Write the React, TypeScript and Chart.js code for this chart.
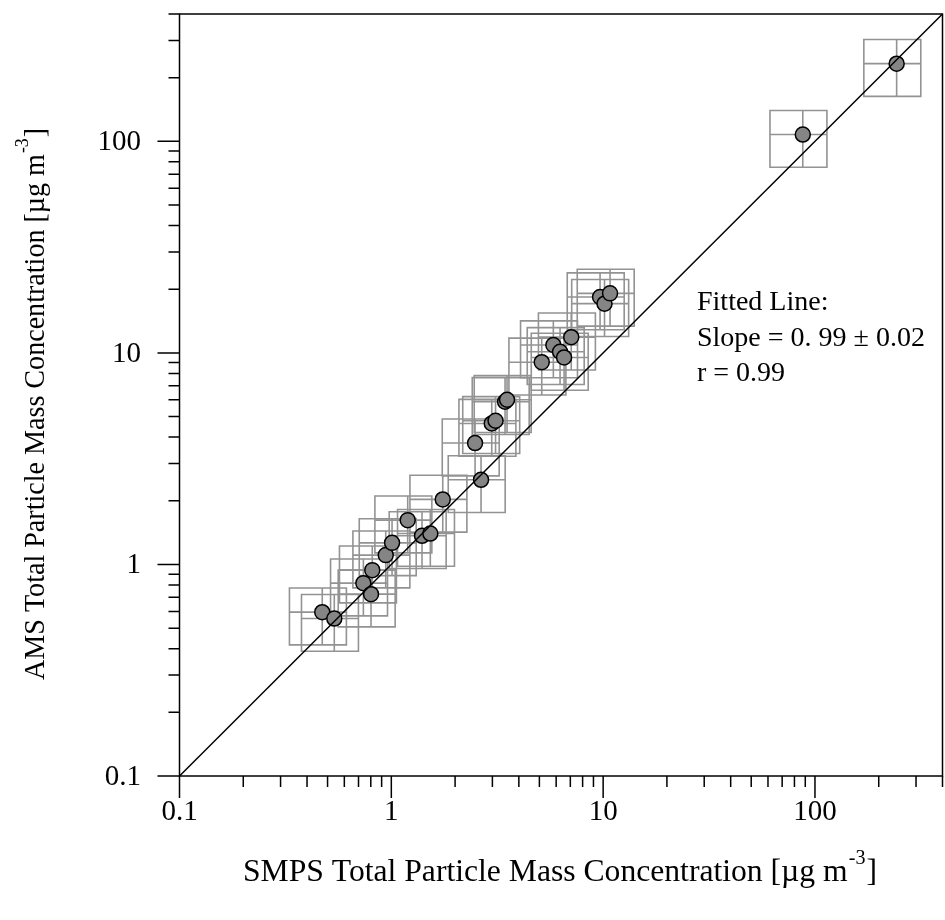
import React, { useEffect, useRef } from "react";
import { Chart, registerables } from "chart.js";
Chart.register(...registerables);

// SMPS (x) and AMS (y) total particle mass concentrations, µg m-3
const smpsX = [0.472, 0.538, 0.738, 0.802, 0.813, 0.941, 1.008, 1.195, 1.396, 1.528, 1.749, 2.652, 2.485, 2.979, 3.105, 3.443, 3.518, 5.13, 5.82, 6.26, 6.54, 7.07, 9.67, 10.15, 10.78, 87.6, 243];
const amsY = [0.595, 0.555, 0.816, 0.724, 0.94, 1.107, 1.265, 1.62, 1.366, 1.4, 2.03, 2.513, 3.748, 4.64, 4.778, 5.878, 6.005, 9.04, 10.9, 10.13, 9.52, 11.87, 18.38, 17.09, 19.12, 107.7, 233];
const relErr = 0.3; // ±30 % uncertainty boxes
const oneToOneX = [0.1, 400];
const oneToOneY = [0.1, 400];
const axisMin = 0.1;
const axisMax = 400;
const majorTicks = [0.1, 1, 10, 100];
const tickLabels = ["0.1", "1", "10", "100"];
const annotationLines = ["Fitted Line:", "Slope = 0. 99 \u00b1 0.02", "r = 0.99"];
const xTitle = "SMPS Total Particle Mass Concentration [\u00b5g m";
const yTitle = "AMS Total Particle Mass Concentration [\u00b5g m";
const titleSup = "-3";
const titleEnd = "]";

const SERIF = '"Liberation Serif", "Times New Roman", serif';

const boxesPlugin = {
  id: "errBoxes",
  beforeDatasetsDraw(chart: any) {
    const ctx = chart.ctx;
    const xs = chart.scales.x;
    const ys = chart.scales.y;
    ctx.save();
    ctx.strokeStyle = "#939393";
    ctx.lineWidth = 1.6;
    for (let i = 0; i < smpsX.length; i++) {
      const x = smpsX[i];
      const y = amsY[i];
      const x0 = xs.getPixelForValue(x * (1 - relErr));
      const x1 = xs.getPixelForValue(x * (1 + relErr));
      const y0 = ys.getPixelForValue(y * (1 - relErr));
      const y1 = ys.getPixelForValue(y * (1 + relErr));
      const xc = xs.getPixelForValue(x);
      const yc = ys.getPixelForValue(y);
      ctx.beginPath();
      ctx.rect(x0, y1, x1 - x0, y0 - y1);
      ctx.moveTo(xc, y1);
      ctx.lineTo(xc, y0);
      ctx.moveTo(x0, yc);
      ctx.lineTo(x1, yc);
      ctx.stroke();
    }
    ctx.restore();
  },
};

function drawTitle(ctx: CanvasRenderingContext2D, base: string, size: number) {
  ctx.font = `${size}px ${SERIF}`;
  ctx.textAlign = "left";
  ctx.textBaseline = "alphabetic";
  ctx.fillText(base, 0, 0);
  const w1 = ctx.measureText(base).width;
  const supSize = Math.round(size * 0.62);
  ctx.font = `${supSize}px ${SERIF}`;
  ctx.fillText(titleSup, w1 + 1, -size * 0.55);
  const w2 = ctx.measureText(titleSup).width;
  ctx.font = `${size}px ${SERIF}`;
  ctx.fillText(titleEnd, w1 + w2 + 2, 0);
}

function titleWidth(ctx: CanvasRenderingContext2D, base: string, size: number) {
  ctx.font = `${size}px ${SERIF}`;
  const w1 = ctx.measureText(base).width;
  const w3 = ctx.measureText(titleEnd).width;
  ctx.font = `${Math.round(size * 0.62)}px ${SERIF}`;
  const w2 = ctx.measureText(titleSup).width;
  return w1 + w2 + w3 + 2;
}

const axesPlugin = {
  id: "axesFrame",
  afterDraw(chart: any) {
    const ctx: CanvasRenderingContext2D = chart.ctx;
    const xs = chart.scales.x;
    const ys = chart.scales.y;
    const { left, right, top, bottom } = chart.chartArea;
    ctx.save();
    ctx.strokeStyle = "#000";
    ctx.lineWidth = 1.5;
    ctx.strokeRect(left, top, right - left, bottom - top);

    // ticks
    ctx.beginPath();
    for (const d of majorTicks) {
      for (let m = 1; m <= 9; m++) {
        const v = d * m;
        if (v > axisMax * 1.0001) break;
        const len = m === 1 ? 22 : 11;
        const px = xs.getPixelForValue(v);
        ctx.moveTo(px, bottom);
        ctx.lineTo(px, bottom + len);
        const py = ys.getPixelForValue(v);
        ctx.moveTo(left, py);
        ctx.lineTo(left - len, py);
      }
    }
    ctx.stroke();

    // tick labels
    ctx.fillStyle = "#000";
    ctx.font = `29px ${SERIF}`;
    ctx.textBaseline = "middle";
    majorTicks.forEach((v, i) => {
      ctx.textAlign = "center";
      ctx.fillText(tickLabels[i], xs.getPixelForValue(v), 812);
      ctx.textAlign = "right";
      ctx.fillText(tickLabels[i], 141, ys.getPixelForValue(v) + 1);
    });

    // x title
    const size = 30;
    const xw = titleWidth(ctx, xTitle, size);
    const xScale = 634 / xw;
    ctx.save();
    ctx.translate(243, 881);
    ctx.scale(xScale, xScale);
    drawTitle(ctx, xTitle, size);
    ctx.restore();

    // y title (condensed)
    const yw = titleWidth(ctx, yTitle, size);
    const yScale = 552 / yw;
    ctx.save();
    ctx.translate(44, 680);
    ctx.rotate(-Math.PI / 2);
    ctx.scale(yScale, 1);
    drawTitle(ctx, yTitle, size);
    ctx.restore();

    // annotation
    ctx.font = `28px ${SERIF}`;
    ctx.textAlign = "left";
    ctx.textBaseline = "middle";
    annotationLines.forEach((t, i) => {
      ctx.fillText(t, 697, 303 + i * 35.5);
    });
    ctx.restore();
  },
};

export default function App() {
  const ref = useRef<HTMLCanvasElement | null>(null);
  useEffect(() => {
    if (!ref.current) return;
    const chart = new Chart(ref.current, {
      type: "scatter",
      data: {
        datasets: [
          {
            type: "line",
            data: oneToOneX.map((x, i) => ({ x, y: oneToOneY[i] })),
            borderColor: "#000",
            borderWidth: 1.5,
            pointRadius: 0,
            fill: false,
            order: 0,
          } as any,
          {
            type: "scatter",
            data: smpsX.map((x, i) => ({ x, y: amsY[i] })),
            backgroundColor: "#858585",
            borderColor: "#000",
            borderWidth: 1.5,
            pointRadius: 7.5,
            order: 1,
          } as any,
        ],
      },
      options: {
        animation: false,
        responsive: false,
        layout: { autoPadding: false, padding: { left: 179.5, top: 14, right: 2.5, bottom: 144 } },
        plugins: { legend: { display: false }, tooltip: { enabled: false } },
        scales: {
          x: { type: "logarithmic", min: axisMin, max: axisMax, display: false },
          y: { type: "logarithmic", min: axisMin, max: axisMax, display: false },
        },
      },
      plugins: [boxesPlugin, axesPlugin],
    });
    return () => chart.destroy();
  }, []);
  return (
    <div style={{ position: "absolute", left: 0, top: 0, width: 945, height: 920, background: "#fff" }}>
      <canvas ref={ref} width={945} height={920} style={{ display: "block" }} />
    </div>
  );
}
